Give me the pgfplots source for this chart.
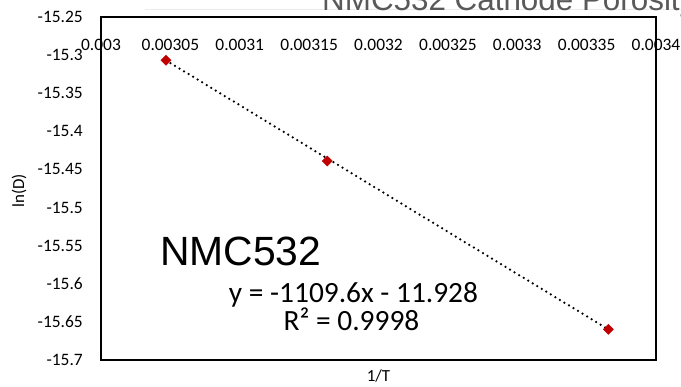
\documentclass[border=0pt]{standalone}
\usepackage{pgfplots}
\pgfplotsset{compat=1.18}
\usepackage{fontspec}
\setmainfont{Carlito}
\newfontfamily\arial{Liberation Sans}
\definecolor{mkred}{HTML}{C00000}
\definecolor{ttl}{HTML}{595959}
\begin{document}
\begin{tikzpicture}[x=1bp,y=1bp]
\path[use as bounding box] (-101,-26) rectangle (580,360);
\draw[gray!15, line width=0.8bp] (44,351) -- (580,351);
\node[anchor=base west, font=\arial\fontsize{31.5}{36}\selectfont, text=ttl, inner sep=0pt] at (221,350) {NMC532 Cathode Porosity};
\begin{axis}[at={(0,0)}, anchor=south west, scale only axis,
  width=555bp, height=343bp,
  xmin=0.003, xmax=0.0034, ymin=-15.7, ymax=-15.25,
  scaled x ticks=false, scaled y ticks=false,
  xtick={0.003,0.00305,0.0031,0.00315,0.0032,0.00325,0.0033,0.00335,0.0034},
  xticklabels={0.003,0.00305,0.0031,0.00315,0.0032,0.00325,0.0033,0.00335,0.0034},
  ytick={-15.7,-15.65,-15.6,-15.55,-15.5,-15.45,-15.4,-15.35,-15.3,-15.25},
  yticklabels={-15.7,-15.65,-15.6,-15.55,-15.5,-15.45,-15.4,-15.35,-15.3,-15.25},
  major tick length=0pt,
  xticklabel pos=upper,
  xticklabel style={font=\fontsize{17.5}{20}\selectfont, anchor=center, yshift=-28bp},
  yticklabel style={font=\fontsize{17.5}{20}\selectfont, anchor=east, inner sep=0pt, xshift=-18bp},
  axis line style={line width=1.2bp, black},
  xlabel={1/T}, ylabel={ln(D)},
  xlabel style={at={(axis description cs:0.5,-0.062)}, anchor=base, inner sep=0pt, font=\fontsize{17}{20}\selectfont},
  ylabel style={at={(axis description cs:-0.1477,0.4927)}, anchor=center, inner sep=0pt, font=\fontsize{17}{20}\selectfont},
  clip=false,
]
\addplot[black, line width=2.5bp, dash pattern=on 0pt off 5.3bp, line cap=round]
  coordinates {(0.0030468,-15.3068) (0.0033656,-15.6598)};
\addplot[only marks, mark=square*, mark size=3.6bp, mark options={rotate=45, fill=mkred, draw=mkred}]
  coordinates {(0.0030468,-15.3068) (0.0031631,-15.4390) (0.0033656,-15.6598)};
\end{axis}
\node[anchor=base west, font=\arial\fontsize{41}{46}\selectfont, inner sep=0pt] at (59,95) {NMC532};
\node[anchor=base, font=\fontsize{29.5}{32}\selectfont, inner sep=0pt] at (252.5,58) {y = -1109.6x - 11.928};
\node[anchor=base, font=\fontsize{29.5}{32}\selectfont, inner sep=0pt] at (250.5,30) {R² = 0.9998};
\end{tikzpicture}
\end{document}
